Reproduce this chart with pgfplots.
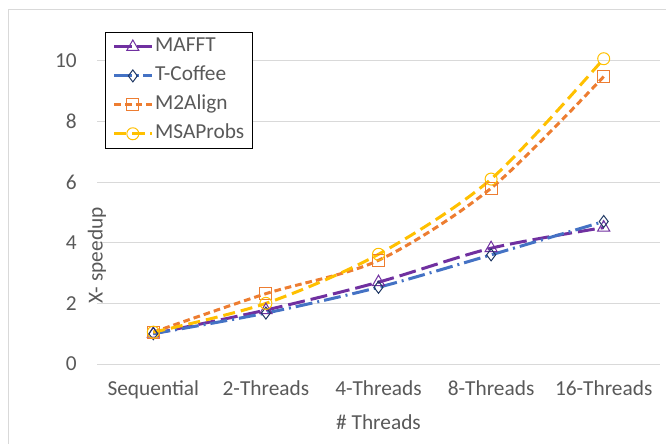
\documentclass[border=0pt]{standalone}
\usepackage{fontspec}
\setmainfont{Carlito}
\usepackage{pgfplots}
\pgfplotsset{compat=1.18}
\definecolor{cPurple}{HTML}{7030A0}
\definecolor{cBlue}{HTML}{4472C4}
\definecolor{cNavy}{HTML}{203864}
\definecolor{cOrange}{HTML}{ED7D31}
\definecolor{cGold}{HTML}{FFC000}
\definecolor{cText}{HTML}{595959}
\definecolor{cGrid}{HTML}{D9D9D9}
\begin{document}
\begin{tikzpicture}
\useasboundingbox (0,0) rectangle (499.5pt,332.25pt);
\draw[cGrid, line width=0.75pt] (6pt,-20pt) rectangle (530pt,324.75pt);
\begin{axis}[
  at={(72.75pt,59.25pt)}, anchor=south west,
  scale only axis, width=422.25pt, height=250.1pt,
  xmin=-0.5, xmax=4.5, ymin=0, ymax=11,
  xtick={0,1,2,3,4},
  xticklabels={Sequential,2-Threads,4-Threads,8-Threads,16-Threads},
  ytick={0,2,4,6,8,10},
  axis line style={draw=none},
  major tick length=0pt,
  ymajorgrids, grid style={cGrid, line width=0.75pt},
  /pgf/number format/assume math mode=true,
  tick label style={font=\fontsize{16}{19}\selectfont, text=cText},
  yticklabel style={anchor=east, inner sep=0pt, xshift=-15pt},
  xticklabel style={anchor=base, inner sep=0pt, yshift=-23.25pt},
  xlabel={\# Threads}, ylabel={X- speedup},
  label style={font=\fontsize{16}{19}\selectfont, text=cText},
  xlabel style={at={(axis description cs:0.5,0)}, anchor=base, inner sep=0pt, yshift=-48.75pt},
  ylabel style={at={(axis description cs:0,0.5)}, anchor=center, inner sep=0pt, xshift=-43.5pt},
  legend style={at={(rel axis cs:0,1)}, anchor=north west, xshift=6pt, yshift=-1.1pt,
    draw=black, line width=0.75pt, fill=white,
    inner xsep=5.5pt, inner ysep=0pt, row sep=0pt, column sep=1.25pt,
    font=\fontsize{16}{19}\selectfont, text=cText,
    nodes={inner xsep=0.5pt, inner ysep=3.6pt, text height=11pt, text depth=3.5pt}},
  legend cell align=left,
  legend image code/.code={\draw[mark repeat=2, mark phase=2, #1] plot coordinates {(0pt,0pt) (13.875pt,0pt) (27.75pt,0pt)};},
  every axis plot/.append style={smooth, tension=0.5, line width=2.25pt},
]
\addplot[cPurple, dash pattern=on 12.75pt off 4.5pt, mark=triangle, mark size=5.25pt,
  mark options={solid, draw=cPurple, fill=white, line width=0.75pt}]
  coordinates {(0,1.0) (1,1.78) (2,2.7) (3,3.82) (4,4.5)};
\addlegendentry{MAFFT}
\addplot[cBlue, dash pattern=on 12.75pt off 3.75pt on 1.5pt off 3.75pt, mark=diamond, mark size=4.5pt,
  mark options={solid, draw=cNavy, fill=white, line width=0.75pt}]
  coordinates {(0,1.0) (1,1.68) (2,2.53) (3,3.6) (4,4.7)};
\addlegendentry{T-Coffee}
\addplot[cOrange, dash pattern=on 5pt off 3pt, mark=square, mark size=4.5pt,
  mark options={solid, draw=cOrange, fill=white, line width=0.75pt}]
  coordinates {(0,1.05) (1,2.32) (2,3.42) (3,5.8) (4,9.48)};
\addlegendentry{M2Align}
\addplot[cGold, dash pattern=on 9pt off 4.5pt, mark=o, mark size=4.5pt,
  mark options={solid, draw=cGold, fill=white, line width=0.75pt}]
  coordinates {(0,1.05) (1,2.0) (2,3.62) (3,6.1) (4,10.07)};
\addlegendentry{MSAProbs}
\end{axis}
\end{tikzpicture}
\end{document}
